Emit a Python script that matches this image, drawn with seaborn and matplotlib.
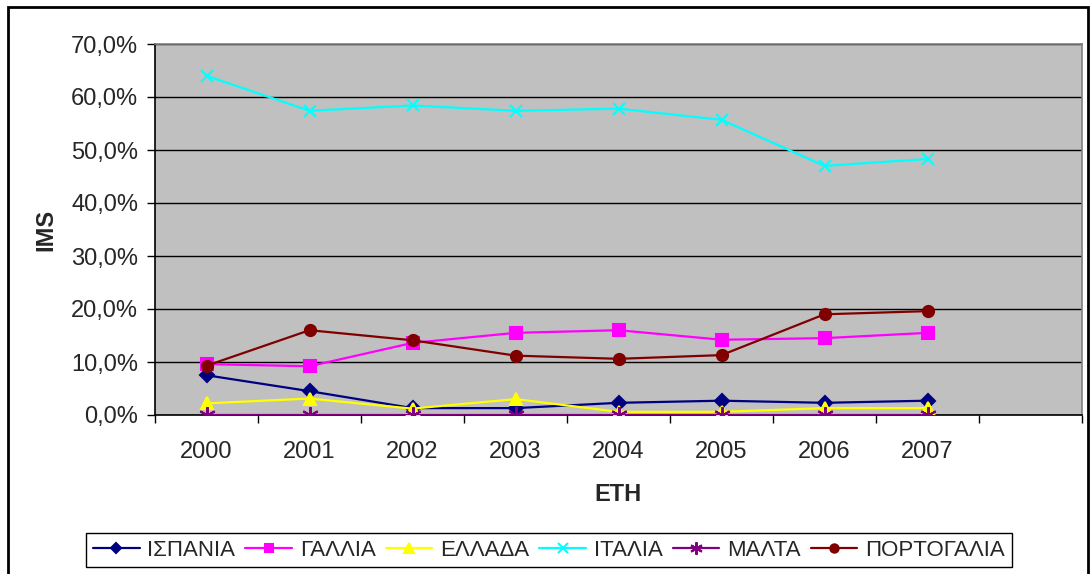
import pandas as pd
import matplotlib.pyplot as plt
import seaborn as sns
from matplotlib.ticker import FixedLocator, FuncFormatter
from matplotlib.patches import Rectangle

sns.set_style("white")
plt.rcParams['font.family'] = ['Liberation Sans', 'DejaVu Sans']

years = ["2000", "2001", "2002", "2003", "2004", "2005", "2006", "2007"]
ispania = [7.5, 4.5, 1.3, 1.3, 2.3, 2.7, 2.3, 2.7]
gallia = [9.6, 9.2, 13.6, 15.5, 16.0, 14.2, 14.5, 15.5]
ellada = [2.2, 3.1, 1.2, 3.0, 0.6, 0.6, 1.3, 1.3]
italia = [64.0, 57.4, 58.4, 57.4, 57.8, 55.7, 47.0, 48.3]
malta = [0.0, 0.0, 0.0, 0.0, 0.0, 0.0, 0.0, 0.0]
portogalia = [9.3, 16.0, 14.1, 11.2, 10.6, 11.3, 19.0, 19.6]

series = [
    ("ΙΣΠΑΝΙΑ", ispania, "#000080", "D", 7),
    ("ΓΑΛΛΙΑ", gallia, "#FF00FF", "s", 8),
    ("ΕΛΛΑΔΑ", ellada, "#FFFF00", "^", 9),
    ("ΙΤΑΛΙΑ", italia, "#00FFFF", "x", 9),
    ("ΜΑΛΤΑ", malta, "#800080", (6, 2, 0), 12),
    ("ΠΟΡΤΟΓΑΛΙΑ", portogalia, "#800000", "o", 8),
]

fig = plt.figure(figsize=(10.9, 5.74), dpi=100)
ax = fig.add_axes([155/1090, 1 - 415/574, (1082-155)/1090, (415-44)/574])
ax.set_facecolor("#C0C0C0")

for name, vals, col, mk, ms in series:
    df = pd.DataFrame({"pos": range(len(years)), "val": vals})
    sns.lineplot(data=df, x="pos", y="val", ax=ax, color=col, marker=mk,
                 markersize=ms, markeredgecolor=col, markeredgewidth=1.5,
                 linewidth=1.6, label=name, zorder=3)

ax.set_xlim(-0.5, 8.5)
ax.set_ylim(0, 70)
ax.set_yticks(range(0, 71, 10))
ax.yaxis.set_major_formatter(FuncFormatter(lambda v, p: f"{v:.1f}".replace(".", ",") + "%"))
ax.grid(axis="y", color="black", linewidth=1)
ax.grid(axis="x", visible=False)
ax.set_axisbelow(True)

# category boundaries as ticks, labels centred on the categories
ax.xaxis.set_major_locator(FixedLocator([i - 0.5 for i in range(10)]))
ax.xaxis.set_major_formatter(FuncFormatter(lambda v, p: ""))
ax.xaxis.set_minor_locator(FixedLocator(range(len(years))))
ax.set_xticklabels(years, minor=True)
ax.tick_params(axis="x", which="major", length=6, width=1, color="black", direction="out", bottom=True)
ax.tick_params(axis="x", which="minor", length=0, labelsize=17, pad=19)
ax.tick_params(axis="y", length=6, width=1, color="black", direction="out", left=True, labelsize=17, pad=6)

for s in ["left", "bottom"]:
    ax.spines[s].set_color("black")
    ax.spines[s].set_linewidth(1.2)
for s in ["top", "right"]:
    ax.spines[s].set_color("#808080")
    ax.spines[s].set_linewidth(1.2)

ax.set_xlabel("ΕΤΗ", fontsize=17, fontweight="bold", labelpad=14)
ax.set_ylabel("IMS", fontsize=17, fontweight="bold", labelpad=10)

ax.legend(loc="center", bbox_to_anchor=(549/1090, 1 - 550/574), bbox_transform=fig.transFigure,
          ncol=6, fontsize=16, frameon=True, fancybox=False, edgecolor="black",
          handlelength=2.1, handletextpad=0.35, columnspacing=0.45, borderpad=0.3,
          markerscale=0.75, framealpha=1)

fig.patches.append(Rectangle((8/1090, -0.01), 1080/1090, 1 - 7/574 + 0.01, transform=fig.transFigure,
                             fill=False, edgecolor="black", linewidth=2))

fig.savefig("out.png", dpi=100)
